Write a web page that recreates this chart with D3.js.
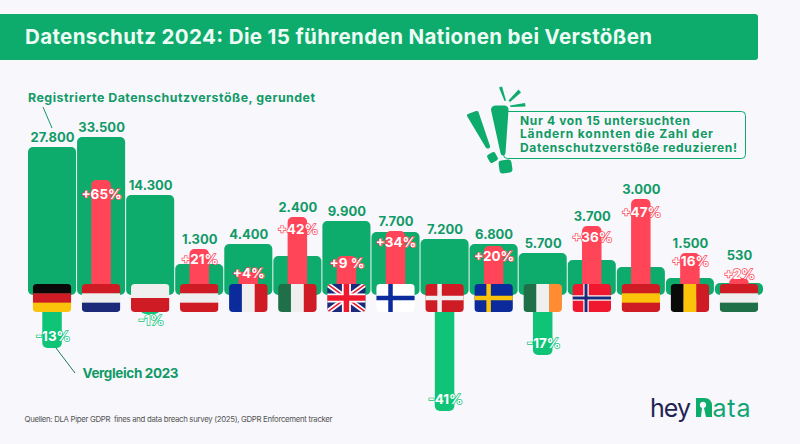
<!DOCTYPE html>
<html>
<head>
<meta charset="utf-8" />
<title>Datenschutz 2024</title>
<script src="https://d3js.org/d3.v7.min.js"></script>
<style>
  html, body { margin: 0; padding: 0; background: #f7f7fc; }
  svg { display: block; }
  svg text { font-family: "Inter", "Open Sans", sans-serif; }
</style>
</head>
<body>
<svg id="chart" width="800" height="444"></svg>
<script>
// countries in reading order
const countries = ["DE", "NL", "PL", "AT", "FR", "IT", "UK", "FI", "DK", "SE", "IE", "NO", "ES", "BE", "HU"];
// printed labels
const violationLabels = ["27.800", "33.500", "14.300", "1.300", "4.400", "2.400", "9.900", "7.700", "7.200", "6.800", "5.700", "3.700", "3.000", "1.500", "530"];
const changeLabels = ["-13%", "+65%", "-1%", "+21%", "+4%", "+42%", "+9 %", "+34%", "-41%", "+20%", "-17%", "+36%", "+47%", "+16%", "+2%"];
// the picture is not drawn to true scale, so these are the heights as read off it
const violationsDrawn = [148, 158, 100, 31, 51, 39, 74, 63, 56, 51, 42, 35, 28, 17, 12];
const changeDrawn = [-53, 115, -19, 46, 23, 78, 39, 64, -116, 49, -60, 69, 96, 42, 17];

const green = "#0dab6c", barUp = "#ff4557", barDown = "#0fc477", text = "#119a67";

const c = {
  red: "#cf1b24", white: "#efefef", blue: "#0b2a9c", black: "#0a0a0a", gold: "#fbc40a",
  dgreen: "#1f7048", orange: "#ff8c33", navy: "#1d2a7a"
};
const flags = {
  DE: { dir: "h", stripes: [c.black, c.red, c.gold] },
  NL: { dir: "h", stripes: [c.red, c.white, c.navy] },
  PL: { dir: "h", stripes: [c.white, c.red] },
  AT: { dir: "h", stripes: [c.red, c.white, c.red] },
  FR: { dir: "v", stripes: [c.blue, c.white, c.red] },
  IT: { dir: "v", stripes: [c.dgreen, c.white, c.red] },
  UK: { uk: true },
  FI: { cross: ["#ffffff", c.blue] },
  DK: { cross: [c.red, c.white] },
  SE: { cross: [c.blue, c.gold] },
  IE: { dir: "v", stripes: [c.dgreen, c.white, c.orange] },
  NO: { cross: ["#f0182e", c.navy], outline: "#ffffff" },
  ES: { dir: "h", stripes: [c.red, c.gold, c.red] },
  BE: { dir: "v", stripes: [c.black, c.gold, c.red] },
  HU: { dir: "h", stripes: [c.red, c.white, c.dgreen] }
};

const svg = d3.select("#chart");
const baseY = 295;

// background + header
svg.append("rect").attr("width", 800).attr("height", 444).attr("fill", "#f7f7fc");
svg.append("path").attr("d", "M0,14H755a3,3 0 0 1 3,3V57a3,3 0 0 1 -3,3H0Z").attr("fill", green);
svg.append("text").attr("x", 25).attr("y", 44).attr("fill", "#eefcf6")
  .attr("font-size", 20.5).attr("font-weight", 700).attr("textLength", 627)
  .text("Datenschutz 2024: Die 15 führenden Nationen bei Verstößen");

const x = d3.scaleBand().domain(countries).range([28, 763]).paddingInner(1 / 49).paddingOuter(0);
const h = d3.scaleLinear().domain([0, 100]).range([0, 100]);
// white labels sit lower inside tall bars, short bars push them up against the top
const labelDrop = d3.scaleLinear().domain([17, 23, 46, 115]).range([1, 6, 15, 19]);

function bar(g, cx, w, top, bottom, r, fill) {
  g.append("rect").attr("x", cx - w / 2).attr("y", top).attr("width", w).attr("height", bottom - top)
    .attr("rx", r).attr("fill", fill);
}

const gBars = svg.append("g");
countries.forEach((k, i) => {
  const cx = x(k) + x.bandwidth() / 2;
  bar(gBars, cx, x.bandwidth(), baseY - h(violationsDrawn[i]), baseY, 5, green);
});

const bw = 19.5;
countries.forEach((k, i) => {
  const cx = x(k) + x.bandwidth() / 2;
  const v = changeDrawn[i];
  if (v > 0) bar(gBars, cx, bw, baseY - h(v), baseY + 5, 5, barUp);
  else bar(gBars, cx, bw, baseY, baseY - h(v), 5, barDown);
});

// flags
const defs = svg.append("defs");
const fw = 38.5, fh = 28, fy = 284;
countries.forEach(k => {
  const f = flags[k];
  const cx = x(k) + x.bandwidth() / 2;
  defs.append("clipPath").attr("id", "clip" + k).append("rect")
    .attr("x", cx - fw / 2).attr("y", fy).attr("width", fw).attr("height", fh).attr("rx", 4);
  const g = svg.append("g").attr("clip-path", "url(#clip" + k + ")");
  const x0 = cx - fw / 2;
  if (f.stripes) {
    const n = f.stripes.length;
    f.stripes.forEach((col, j) => {
      if (f.dir === "h") g.append("rect").attr("x", x0).attr("y", fy + j * fh / n).attr("width", fw).attr("height", fh / n + 0.3).attr("fill", col);
      else g.append("rect").attr("x", x0 + j * fw / n).attr("y", fy).attr("width", fw / n + 0.3).attr("height", fh).attr("fill", col);
    });
  } else if (f.cross) {
    g.append("rect").attr("x", x0).attr("y", fy).attr("width", fw).attr("height", fh).attr("fill", f.cross[0]);
    const vx = x0 + 12, t = f.outline ? 3 : 4.5;
    if (f.outline) {
      g.append("rect").attr("x", vx - 1.2).attr("y", fy).attr("width", t + 2.4).attr("height", fh).attr("fill", f.outline);
      g.append("rect").attr("x", x0).attr("y", fy + fh / 2 - t / 2 - 1.2).attr("width", fw).attr("height", t + 2.4).attr("fill", f.outline);
    }
    g.append("rect").attr("x", vx).attr("y", fy).attr("width", t).attr("height", fh).attr("fill", f.cross[1]);
    g.append("rect").attr("x", x0).attr("y", fy + fh / 2 - t / 2).attr("width", fw).attr("height", t).attr("fill", f.cross[1]);
  } else if (f.uk) {
    g.append("rect").attr("x", x0).attr("y", fy).attr("width", fw).attr("height", fh).attr("fill", c.navy);
    const d1 = `M${x0},${fy}L${x0 + fw},${fy + fh}M${x0 + fw},${fy}L${x0},${fy + fh}`;
    g.append("path").attr("d", d1).attr("stroke", "#fff").attr("stroke-width", 5);
    g.append("path").attr("d", d1).attr("stroke", "#f0182e").attr("stroke-width", 1.6);
    const d2 = `M${cx},${fy}V${fy + fh}M${x0},${fy + fh / 2}H${x0 + fw}`;
    g.append("path").attr("d", d2).attr("stroke", "#fff").attr("stroke-width", 9);
    g.append("path").attr("d", d2).attr("stroke", "#f0182e").attr("stroke-width", 5.5);
  }
});

// value labels above the columns; the shortest column has its change label in between
countries.forEach((k, i) => {
  const cx = x(k) + x.bandwidth() / 2;
  const top = baseY - Math.max(h(violationsDrawn[i]), h(changeDrawn[i]));
  const gap = h(changeDrawn[i]) < 20 && changeDrawn[i] > 0 ? 18 : 5.5;
  svg.append("text").attr("x", cx + 0.5).attr("y", top - gap).attr("text-anchor", "middle")
    .attr("fill", text).attr("font-size", 13).attr("font-weight", 700).text(violationLabels[i]);
});

// change labels, white with a halo
countries.forEach((k, i) => {
  const cx = x(k) + x.bandwidth() / 2;
  const v = changeDrawn[i];
  const y = v > 0 ? baseY - h(v) + labelDrop(h(v)) : Math.max(baseY - h(v) - 7.5, 325);
  svg.append("text").attr("x", cx + (v > 0 ? 0.5 : 1)).attr("y", y).attr("text-anchor", "middle")
    .attr("fill", "#fff").attr("stroke", v > 0 ? barUp : barDown).attr("stroke-width", 1.4)
    .attr("paint-order", "stroke").attr("font-size", 13.5).attr("font-weight", 700).text(changeLabels[i]);
});

// annotations
svg.append("text").attr("x", 28).attr("y", 101.7).attr("fill", text).attr("font-size", 12.4).attr("font-weight", 700)
  .attr("textLength", 287).text("Registrierte Datenschutzverstöße, gerundet");
svg.append("line").attr("x1", 43).attr("y1", 107).attr("x2", 52).attr("y2", 128).attr("stroke", text).attr("stroke-width", 1);
svg.append("text").attr("x", 82.5).attr("y", 377.7).attr("fill", text).attr("font-size", 13.5).attr("font-weight", 700)
  .attr("textLength", 96).text("Vergleich 2023");
svg.append("line").attr("x1", 56).attr("y1", 348).attr("x2", 75).attr("y2", 373).attr("stroke", "#1f7a5c").attr("stroke-width", 1);

// callout box
svg.append("rect").attr("x", 503.5).attr("y", 111.5).attr("width", 242).attr("height", 47).attr("rx", 4)
  .attr("fill", "none").attr("stroke", green).attr("stroke-width", 1);
[["Nur 4 von 15 untersuchten", 124.8, 170], ["Ländern konnten die Zahl der", 138.2, 193], ["Datenschutzverstöße reduzieren!", 151.8, 217]].forEach(l => {
  svg.append("text").attr("x", 520).attr("y", l[1]).attr("fill", "#0f9a62").attr("font-size", 12).attr("font-weight", 700)
    .attr("textLength", l[2]).text(l[0]);
});

// exclamation marks and sparks
const gMark = svg.append("g").attr("fill", green);
gMark.append("path").attr("d", "M491,110 Q491,105.5 496,105.5 L504,105.5 Q508.5,105.5 508.5,110 L505.5,153 Q505,155.5 503,155.5 Q501,155.5 500.5,153 Z");
gMark.append("path").attr("d", "M467,116 Q466.5,114.5 468,114 L476,111 Q478,110.5 478.5,112 L490,146 Q490.5,148 488.5,148.5 Q486.5,149 485.5,147 Z");
gMark.append("rect").attr("x", 499).attr("y", 160).attr("width", 13).attr("height", 13).attr("rx", 3).attr("transform", "rotate(-8 505.5 166.5)");
gMark.append("rect").attr("x", 488).attr("y", 153).attr("width", 9).attr("height", 9).attr("rx", 2).attr("transform", "rotate(-30 492.5 157.5)");
gMark.append("path").attr("d", "M499,87.5 L502,86.5 L506,100.5 L504.5,101 Z");
gMark.append("path").attr("d", "M518.5,89.5 L521,92.5 L510,102 L508.5,100.5 Z");
gMark.append("path").attr("d", "M525,103 L525.5,106.5 L510.5,107 L510,105.5 Z");

// source line
svg.append("text").attr("x", 24.5).attr("y", 421.7).attr("fill", "#555").attr("font-size", 7.8)
  .attr("textLength", 308).attr("xml:space", "preserve")
  .text("Quellen: DLA Piper GDPR  fines and data breach survey (2025), GDPR Enforcement tracker");

// logo
svg.append("text").attr("x", 650).attr("y", 417).attr("fill", "#1f2454").attr("font-size", 25).attr("font-weight", 400)
  .attr("textLength", 41).text("hey");
svg.append("text").attr("x", 712.5).attr("y", 417).attr("fill", "#12a574").attr("font-size", 25).attr("font-weight", 400)
  .attr("textLength", 38).text("ata");
svg.append("path").attr("fill", "#0dab6c").attr("fill-rule", "evenodd")
  .attr("d", "M696,398 H704 Q712,398 712,406 V417 H706 L704,408 A3.2,3.2 0 1 0 702,408 L701,417 H696 Z");
</script>
</body>
</html>
